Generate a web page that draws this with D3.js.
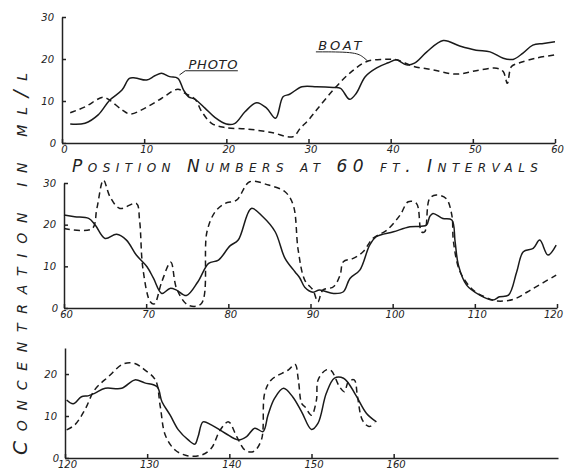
<!DOCTYPE html>
<html>
<head>
<meta charset="utf-8">
<script src="https://cdn.jsdelivr.net/npm/d3@7"></script>
<style>
  body { margin: 0; background: #fff; }
  svg text { font-family: "DejaVu Sans", sans-serif; font-style: oblique; fill: #222; }
  .axis path, .axis line { stroke: #222; stroke-width: 1.5; }
  .axis text { font-size: 10px; }
</style>
</head>
<body>
<svg id="chart" width="565" height="471"></svg>
<script>
// traced readings: [position number, concentration ml/L]
const photoA = [[1,4.5],[2.8,4.7],[4.4,6.7],[5.8,10.2],[7.3,12.6],[8.2,15.4],[8.9,15.5],[10.3,15],[11.3,16],[12.1,16.6],[13.1,15.8],[14.1,15.4],[14.8,12.6],[15.4,11],[16.2,10.4],[17.4,8.3],[18.6,6.1],[20,4.5],[21,4.6],[22.3,7.5],[23.7,9.6],[24.9,8.3],[26,5.9],[26.9,11],[27.7,11.6],[29.2,13.4],[31,13.4],[33,13.2],[33.9,13],[35,10.4],[35.8,11.8],[36.9,15.8],[38.3,17.9],[39.7,19.1],[40.7,19.8],[41.9,18.6],[42.9,19],[44.4,21.7],[46.4,24.4],[48.4,23.1],[50.4,22.1],[52.1,21.7],[53.7,20.2],[54.9,19.9],[56.1,21.4],[57.3,23.3],[58.6,23.7],[60,24.1]]
const boatA = [[1,7.2],[2.8,8.6],[5,10.9],[5.8,10.2],[7.3,7.9],[8.3,6.9],[10.1,8.3],[12.1,10.6],[14.1,12.8],[15,11.8],[16.2,10.4],[17,7.5],[18.2,4.7],[19.8,3.7],[22.7,3.3],[25.5,2.5],[28.1,1.5],[29,3.5],[30,5.5],[31,7.9],[33,12.6],[35,16.6],[37.1,19.4],[39.1,19.9],[40.7,19.8],[42.7,18.3],[45.2,17.4],[48,16.4],[50.4,17.2],[52.9,17.8],[53.7,17],[54.2,14.2],[54.7,18.2],[55.7,19.1],[57.7,20.2],[60,21]]

const photoB = [[60,22.3],[61.3,21.9],[63,21.5],[63.8,19.9],[65,16.7],[66.4,17.7],[67.6,16.3],[68.8,12.7],[70.1,9.9],[70.9,7.1],[71.9,3.5],[72.9,4.7],[73.7,4.3],[74.9,3],[76.3,6.3],[77.6,10.7],[78.8,11.5],[80.2,14.9],[81.2,16.3],[82.8,23.9],[84.2,21.9],[85.7,18.3],[86.9,11.9],[88.1,8.7],[88.7,7.2],[89.3,5],[90.3,3.8],[91.1,4.3],[92.8,3.5],[94,3.9],[94.8,7.1],[96,9.1],[97.2,15.1],[98,17.1],[100.1,18.3],[102.1,19.5],[104.1,19.9],[104.5,21.9],[104.9,22.7],[106.1,21.5],[107.2,21.1],[107.6,15.9],[108,10.3],[109,5.5],[110.6,3.1],[112.2,1.9],[113,2.7],[114.1,3.1],[115.1,8.7],[115.9,13.5],[117.1,14.3],[117.9,16.3],[118.9,12.7],[119.9,15.1]]
const boatB = [[60,19.1],[63.4,19],[64,23.9],[64.8,30.7],[65.6,26.7],[66.8,23.9],[68.8,25.1],[69.2,21],[69.6,9.5],[70.5,1.5],[71,1],[71.9,6.3],[73,11],[73.7,4.7],[75.1,0.7],[76.7,1],[77.4,18.3],[78.4,23.1],[79.6,25.1],[81,25.9],[82.6,30.3],[84.9,29.5],[86.9,27.9],[87.9,24.7],[88.5,13.9],[89.3,6.7],[90.3,4.3],[90.9,1.5],[91.5,4.3],[92.8,5.1],[93.6,7.9],[94,11.1],[95.2,11.9],[96.4,13.5],[97.6,16.7],[99.3,18.7],[100.9,22.3],[101.9,25.5],[102.9,25.1],[103.5,18.3],[103.9,18.3],[104.5,26.3],[105.3,27.1],[106.5,26.3],[107.2,22.3],[107.4,15.9],[108.2,8.7],[109.8,4.3],[111.4,2.5],[112.6,1.7],[114.7,2.1],[117.1,4.7],[119.9,7.9]]

const photoC = [[120.2,13.8],[121,12.9],[122,14.6],[122.8,14.8],[123.6,15.4],[124.9,16.6],[126.9,16.6],[128.5,18.6],[129.7,17.9],[131.2,17],[131.8,13.4],[132.8,10.2],[133.8,6.7],[135,4.3],[135.8,3.3],[136.2,5.1],[136.8,8.6],[137.8,7.9],[139.5,5.9],[141.1,4.3],[142.1,5.1],[143.1,7.1],[144.1,6.3],[144.7,10.2],[145.5,14.2],[146.6,16.6],[147.7,14.6],[148.8,11],[150,6.8],[150.8,8.3],[151.8,15.4],[152.8,19],[153.9,19],[154.5,17.8],[155.5,14.6],[156.7,10.6],[157.9,8.6]]
const boatC = [[120.2,6.7],[121.2,7.9],[122.4,11.4],[123.6,16.2],[125.3,19.4],[127.1,22.4],[128.5,22.5],[129.7,21],[131,18.6],[131.6,12.2],[132.2,5.5],[133.4,1.9],[135,0.5],[136.6,0.7],[137.8,2.3],[138.9,6.7],[139.9,8.6],[140.9,5.1],[141.9,1.9],[142.9,1.5],[143.9,4.3],[144.3,15.4],[145.1,18.6],[147.2,21],[148,22.3],[148.4,18.6],[148.8,13],[149.2,12.2],[150,10.2],[150.6,13.8],[150.8,18.6],[151.8,21],[152.4,20.8],[153.4,17],[154,15.8],[154.5,18.2],[155.2,18.6],[155.6,14.6],[156.2,9],[157,7.5],[157.7,8.3]]

const xTicksA = [0, 10, 20, 30, 40, 50, 60]
const xTicksB = [60, 70, 80, 90, 100, 110, 120]
const xTicksC = [120, 130, 140, 150, 160]
const yTicksAB = [0, 10, 20, 30]
const yTicksC = [0, 10, 20]

const svg = d3.select('#chart')

const panels = [
  { photo: photoA, boat: boatA, xd: [0, 60],    xr: [62, 555], yd: [0, 30],   yr: [143, 17],  xt: xTicksA, yt: yTicksAB },
  { photo: photoB, boat: boatB, xd: [60, 120],  xr: [64, 557], yd: [0, 30],   yr: [308, 183], xt: xTicksB, yt: yTicksAB },
  { photo: photoC, boat: boatC, xd: [120, 180], xr: [65, 558], yd: [0, 26.2], yr: [458, 348], xt: xTicksC, yt: yTicksC }
]

const scales = panels.map(p => {
  let x = d3.scaleLinear().domain(p.xd).range(p.xr)
  let y = d3.scaleLinear().domain(p.yd).range(p.yr)

  svg.append('g')
    .attr('class', 'axis')
    .attr('transform', 'translate(0,' + p.yr[0] + ')')
    .call(d3.axisBottom(x).tickValues(p.xt).tickSizeInner(-4).tickSizeOuter(0).tickPadding(3))
    .call(g => g.selectAll('.tick text').attr('dx', d => d === 120 && p.xd[0] === 60 ? '-4' : '2'))

  svg.append('g')
    .attr('class', 'axis')
    .attr('transform', 'translate(' + p.xr[0] + ',0)')
    .call(d3.axisLeft(y).tickValues(p.yt).tickSizeInner(-4).tickSizeOuter(0).tickPadding(8))
    .call(g => g.selectAll('.tick').filter(d => d === 0).select('text').attr('dx', '2'))

  let line = d3.line()
    .x(d => x(d[0]))
    .y(d => y(d[1]))
    .curve(d3.curveCatmullRom.alpha(0.5))

  svg.append('path')
    .attr('d', line(p.photo))
    .attr('fill', 'none')
    .attr('stroke', '#1a1a1a')
    .attr('stroke-width', 1.5)

  svg.append('path')
    .attr('d', line(p.boat))
    .attr('fill', 'none')
    .attr('stroke', '#1a1a1a')
    .attr('stroke-width', 1.5)
    .attr('stroke-dasharray', '6,4')

  return { x, y }
})

// axis titles
svg.append('text')
  .attr('x', 72).attr('y', 172)
  .attr('textLength', 466).attr('lengthAdjust', 'spacing')
  .style('font-size', '17px').style('font-variant', 'small-caps')
  .text('Position Numbers at 60 ft. Intervals')

svg.append('text')
  .attr('transform', 'translate(27,455) rotate(-90)')
  .attr('textLength', 382).attr('lengthAdjust', 'spacing')
  .style('font-size', '20px').style('font-variant', 'small-caps')
  .text('Concentration in ml/l')

// labels in the first panel
let { x, y } = scales[0]

svg.append('text')
  .attr('x', x(15.4)).attr('y', y(17.6))
  .attr('textLength', 49)
  .style('font-size', '13px')
  .text('PHOTO')
svg.append('path')
  .attr('d', d3.line()([[x(21.4), y(17.2)], [x(15), y(17.2)], [x(14.3), y(16.2)]]))
  .attr('fill', 'none').attr('stroke', '#222').attr('stroke-width', 1)

svg.append('text')
  .attr('x', x(31.2)).attr('y', y(22.2))
  .attr('textLength', 43)
  .style('font-size', '13px')
  .text('BOAT')
svg.append('path')
  .attr('d', d3.line().curve(d3.curveBasis)([[x(30.9), y(21.7)], [x(35.6), y(21.7)], [x(36.6), y(20.6)], [x(37.2), y(19.5)]]))
  .attr('fill', 'none').attr('stroke', '#222').attr('stroke-width', 1)
</script>
</body>
</html>
